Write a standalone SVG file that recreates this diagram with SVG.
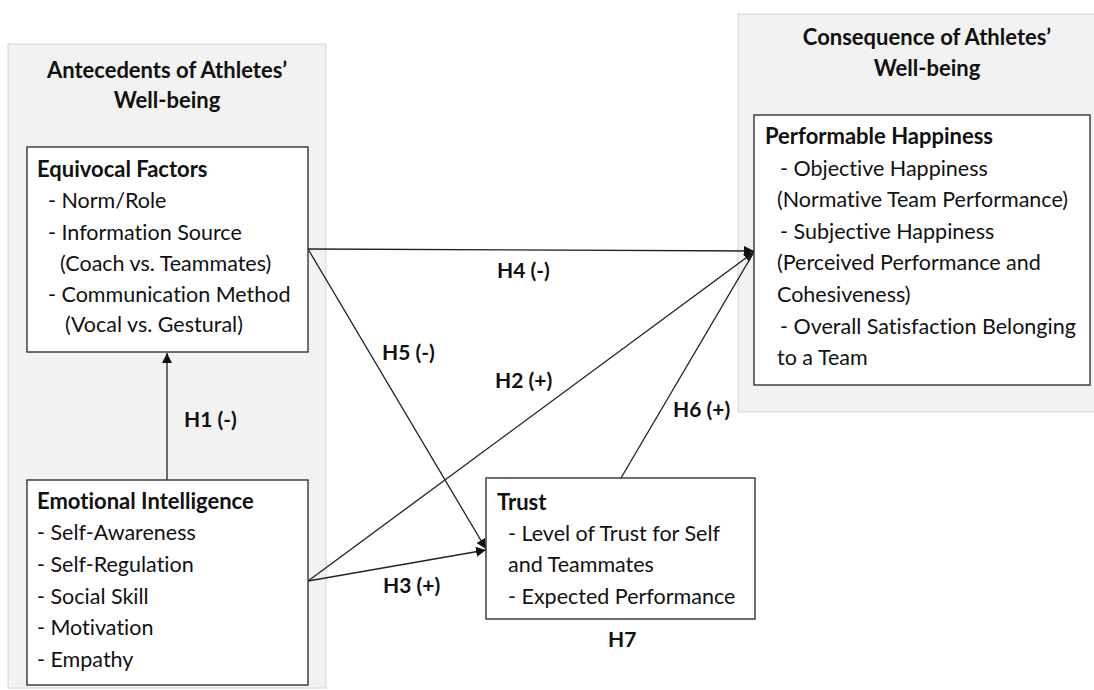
<svg xmlns="http://www.w3.org/2000/svg" width="1094" height="690" viewBox="0 0 1094 690">
<style>
.panel{fill:#f2f2f2;stroke:#d4d4d4;stroke-width:1}
.box{fill:#ffffff;stroke:#333333;stroke-width:1.4}
.t{font-family:Lato,"Liberation Sans",sans-serif;font-size:21.5px;fill:#111111;font-variant-ligatures:none}
.b{font-weight:bold;font-size:22px}
.ttl{font-family:Lato,"Liberation Sans",sans-serif;font-size:22px;font-weight:bold;fill:#111111;text-anchor:middle;font-variant-ligatures:none}
.lbl{font-family:Lato,"Liberation Sans",sans-serif;font-size:21px;font-weight:bold;fill:#111111}
.c{fill:none;stroke:#222222;stroke-width:1.3}
</style>
<defs>
<marker id="ah" viewBox="0 0 10 10" refX="10" refY="5" markerWidth="10" markerHeight="10" markerUnits="userSpaceOnUse" orient="auto">
<path d="M0,0 L10,5 L0,10 z" fill="#111111"/>
</marker>
</defs>
<rect width="1094" height="690" fill="#ffffff"/>
<g id="panel-antecedents">
<rect class="panel" x="8" y="44" width="318" height="644"/>
<text class="ttl" x="167" y="78">Antecedents of Athletes’</text>
<text class="ttl" x="167" y="108">Well-being</text>
</g>
<g id="panel-consequence">
<rect class="panel" x="738" y="14" width="370" height="398"/>
<text class="ttl" x="927" y="45">Consequence of Athletes’</text>
<text class="ttl" x="927" y="76">Well-being</text>
</g>
<g id="connectors">
<line class="c" x1="167" y1="480" x2="167" y2="353" marker-end="url(#ah)"/>
<line class="c" x1="308" y1="249" x2="754" y2="251" marker-end="url(#ah)"/>
<line class="c" x1="308" y1="249" x2="486" y2="549" marker-end="url(#ah)"/>
<line class="c" x1="308" y1="581" x2="754" y2="252" marker-end="url(#ah)"/>
<line class="c" x1="308" y1="581" x2="486" y2="550" marker-end="url(#ah)"/>
<line class="c" x1="621" y1="478" x2="754" y2="252"/>
<text class="lbl" x="184" y="427">H1 (-)</text>
<text class="lbl" x="497" y="278">H4 (-)</text>
<text class="lbl" x="382" y="360">H5 (-)</text>
<text class="lbl" x="495" y="388">H2 (+)</text>
<text class="lbl" x="673" y="417">H6 (+)</text>
<text class="lbl" x="383" y="593">H3 (+)</text>
<text class="lbl" x="608" y="647">H7</text>
</g>
<g id="node-equivocal">
<rect class="box" x="27" y="147" width="281" height="205"/>
<text class="t b" x="37" y="177">Equivocal Factors</text>
<text class="t" x="48" y="208">- Norm/Role</text>
<text class="t" x="48" y="240">- Information Source</text>
<text class="t" x="60" y="271">(Coach vs. Teammates)</text>
<text class="t" x="48" y="302">- Communication Method</text>
<text class="t" x="65" y="332">(Vocal vs. Gestural)</text>
</g>
<g id="node-emotional">
<rect class="box" x="27" y="480" width="281" height="205"/>
<text class="t b" x="37" y="509">Emotional Intelligence</text>
<text class="t" x="37" y="540">- Self-Awareness</text>
<text class="t" x="37" y="572">- Self-Regulation</text>
<text class="t" x="37" y="604">- Social Skill</text>
<text class="t" x="37" y="635">- Motivation</text>
<text class="t" x="37" y="667">- Empathy</text>
</g>
<g id="node-trust">
<rect class="box" x="486" y="478" width="269" height="141"/>
<text class="t b" x="497" y="510">Trust</text>
<text class="t" x="508" y="541">- Level of Trust for Self</text>
<text class="t" x="508" y="572">and Teammates</text>
<text class="t" x="508" y="604">- Expected Performance</text>
</g>
<g id="node-happiness">
<rect class="box" x="754" y="115" width="336" height="270"/>
<text class="t b" x="765" y="144">Performable Happiness</text>
<text class="t" x="780" y="176">- Objective Happiness</text>
<text class="t" x="777" y="207">(Normative Team Performance)</text>
<text class="t" x="780" y="239">- Subjective Happiness</text>
<text class="t" x="777" y="270">(Perceived Performance and</text>
<text class="t" x="777" y="302">Cohesiveness)</text>
<text class="t" x="780" y="334">- Overall Satisfaction Belonging</text>
<text class="t" x="777" y="365">to a Team</text>
</g>
</svg>
